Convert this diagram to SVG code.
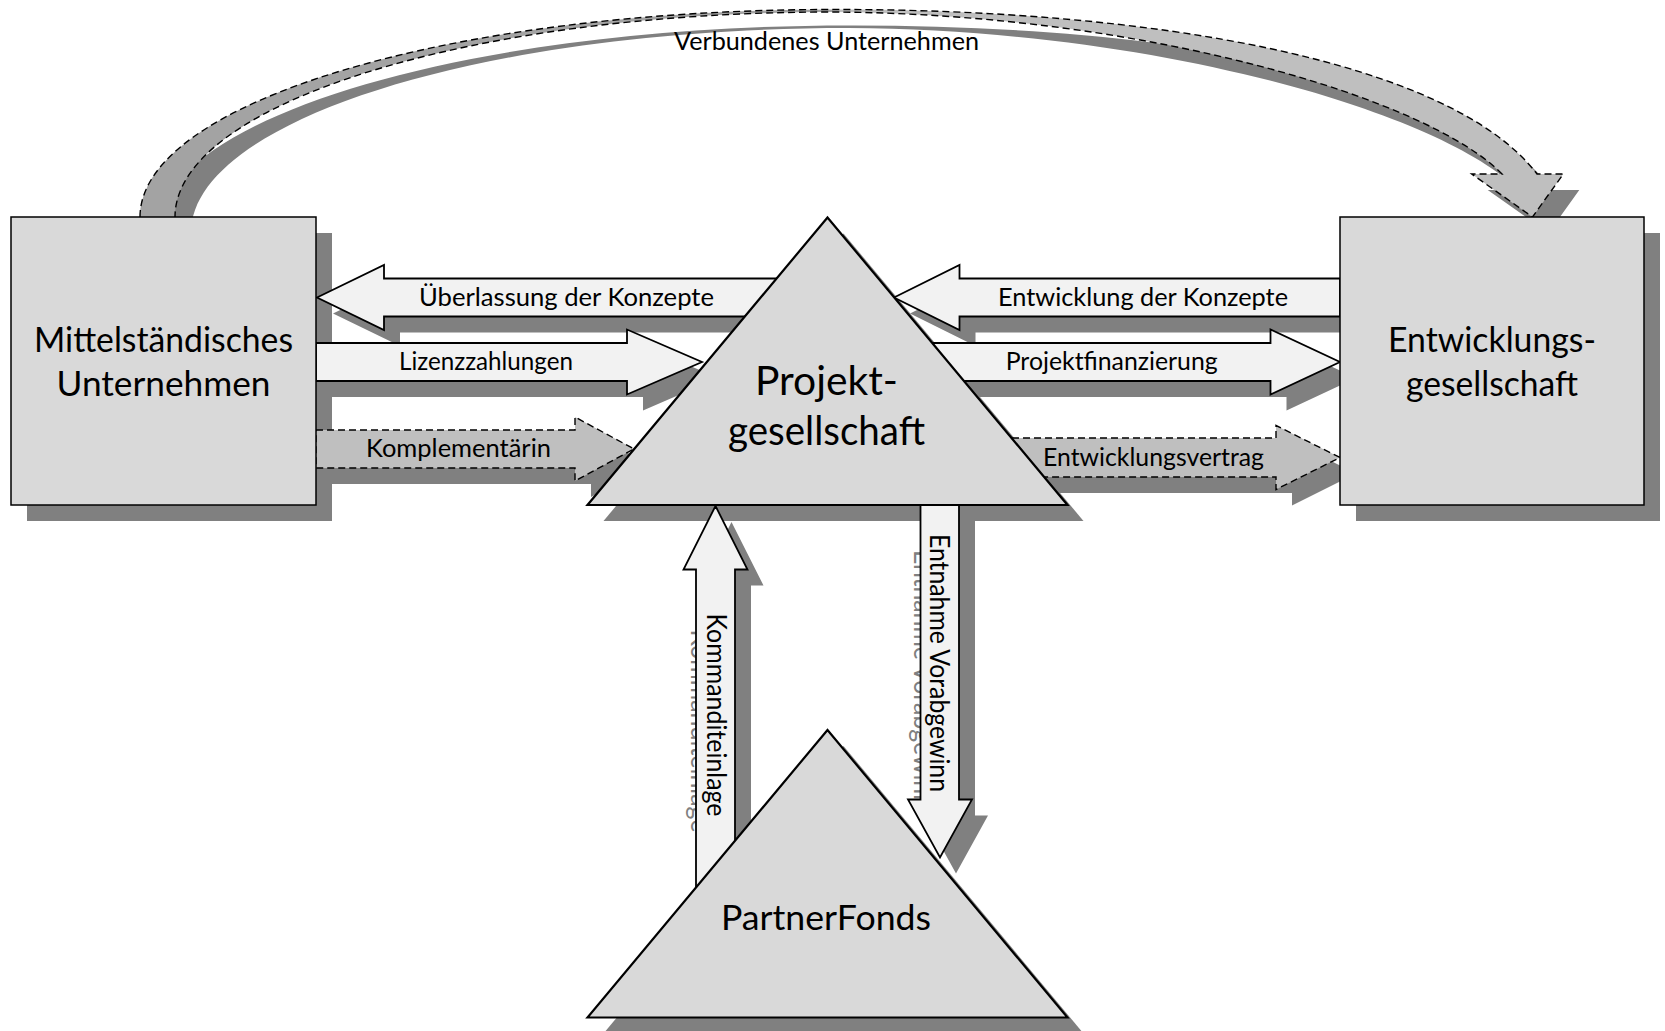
<svg xmlns="http://www.w3.org/2000/svg" width="1665" height="1031" viewBox="0 0 1665 1031">
<defs>
<style>
.sh{fill:#808080;stroke:none}
.box{fill:#d9d9d9;stroke:#000;stroke-width:1.5}
.tri{fill:#d9d9d9;stroke:#000;stroke-width:2.2;stroke-linejoin:miter}
.arw{fill:#f2f2f2;stroke:#000;stroke-width:1.8;stroke-linejoin:miter}
.darw{fill:#bfbfbf;stroke:#000;stroke-width:1.4;stroke-dasharray:7 4}
.t{font-family:Lato,'Open Sans','Liberation Sans',sans-serif;fill:#000;text-anchor:middle}
.s{font-size:25px}
.v{font-size:26px}
.b{font-size:35px}
.p{font-size:40px}
.g{fill:#808080}
</style>
</defs>
<rect width="1665" height="1031" fill="#fff"/>

<g id="node-shadows">
<rect class="sh" x="27" y="233" width="305" height="288"/>
<rect class="sh" x="1356" y="233" width="304" height="288"/>
<polygon class="sh" points="843.5,233.5 603.5,521 1083.5,521"/>
<polygon class="sh" points="843.5,746 603.5,1033.5 1083.5,1033.5"/>
</g>

<g id="connectors">
<g id="curved-arrow">
<path class="sh" transform="translate(16,16)" d="M140,217 C140,102.4 450.3,9.5 833,9.5 C1150,9 1450,60 1537,174 L1563.3,174 L1532.5,217 L1471.7,174 L1502,174 C1430,100 1150,14 833,12 C469.6,12 175,103.8 175,217 Z"/>
<path fill="#a3a3a3" d="M140,217 C140,102.4 450.3,9.5 833,9.5 L833,12 C469.6,12 175,103.8 175,217 Z"/>
<path fill="#bfbfbf" d="M833,9.5 C1150,9 1450,60 1537,174 L1563.3,174 L1532.5,217 L1471.7,174 L1502,174 C1430,100 1150,14 833,12 Z"/>
<path fill="none" stroke="#000" stroke-width="1.4" stroke-dasharray="7 4" d="M140,217 C140,102.4 450.3,9.5 833,9.5 C1150,9 1450,60 1537,174 L1563.3,174 L1532.5,217 L1471.7,174 L1502,174 C1430,100 1150,14 833,12 C469.6,12 175,103.8 175,217"/>
<text class="t s" x="826.5" y="50" textLength="305" lengthAdjust="spacingAndGlyphs">Verbundenes Unternehmen</text>
</g>

<g id="arrow-shadows" class="sh">
<polygon points="317,297.5 384,265 384,278.5 790,278.5 790,316.5 384,316.5 384,330" transform="translate(16,16)"/>
<polygon points="316,343 627,343 627,329.5 702,362 627,394.5 627,381 316,381" transform="translate(16,16)"/>
<polygon points="316,430 575,430 575,417 634,449 575,481 575,468 316,468" transform="translate(16,16)"/>
<polygon points="894,297.5 959.5,265 959.5,278.5 1340,278.5 1340,316.5 959.5,316.5 959.5,330" transform="translate(16,16)"/>
<polygon points="900,343 1270.5,343 1270.5,329.5 1340,362 1270.5,394.5 1270.5,381 900,381" transform="translate(16,16)"/>
<polygon points="990,438 1276,438 1276,425.5 1340,457.5 1276,489.5 1276,477 990,477" transform="translate(16,16)"/>
<polygon points="715.5,506 747.5,569.5 735,569.5 735,900 696,900 696,569.5 683.5,569.5" transform="translate(16,16)"/>
<polygon points="920.5,500 959,500 959,799.5 972,799.5 940,857.5 908,799.5 920.5,799.5" transform="translate(16,16)"/>
</g>
<text class="t v g" transform="translate(690.5,731) rotate(90)" textLength="203" lengthAdjust="spacingAndGlyphs">Kommanditeinlage</text>
<text class="t v g" transform="translate(914,679) rotate(90)" textLength="258" lengthAdjust="spacingAndGlyphs">Entnahme Vorabgewinn</text>

<g id="arrow-ueberlassung">
<polygon class="arw" points="317,297.5 384,265 384,278.5 790,278.5 790,316.5 384,316.5 384,330"/>
<text class="t s" x="566.5" y="306" textLength="295" lengthAdjust="spacingAndGlyphs">Überlassung der Konzepte</text>
</g>
<g id="arrow-lizenz">
<polygon class="arw" points="316,343 627,343 627,329.5 702,362 627,394.5 627,381 316,381"/>
<text class="t s" x="486" y="370" textLength="174" lengthAdjust="spacingAndGlyphs">Lizenzzahlungen</text>
</g>
<g id="arrow-komplementaerin">
<polygon class="darw" points="316,430 575,430 575,417 634,449 575,481 575,468 316,468"/>
<text class="t s" x="458.5" y="457" textLength="185" lengthAdjust="spacingAndGlyphs">Komplementärin</text>
</g>
<g id="arrow-entwicklung">
<polygon class="arw" points="894,297.5 959.5,265 959.5,278.5 1340,278.5 1340,316.5 959.5,316.5 959.5,330"/>
<text class="t s" x="1143" y="306" textLength="290" lengthAdjust="spacingAndGlyphs">Entwicklung der Konzepte</text>
</g>
<g id="arrow-projektfinanzierung">
<polygon class="arw" points="900,343 1270.5,343 1270.5,329.5 1340,362 1270.5,394.5 1270.5,381 900,381"/>
<text class="t s" x="1111.7" y="370" textLength="212" lengthAdjust="spacingAndGlyphs">Projektfinanzierung</text>
</g>
<g id="arrow-entwicklungsvertrag">
<polygon class="darw" points="990,438 1276,438 1276,425.5 1340,457.5 1276,489.5 1276,477 990,477"/>
<text class="t s" x="1153.5" y="466" textLength="221" lengthAdjust="spacingAndGlyphs">Entwicklungsvertrag</text>
</g>
<g id="arrow-kommanditeinlage">
<polygon class="arw" points="715.5,506 747.5,569.5 735,569.5 735,900 696,900 696,569.5 683.5,569.5"/>
<text class="t v" transform="translate(706.5,715) rotate(90)" textLength="203" lengthAdjust="spacingAndGlyphs">Kommanditeinlage</text>
</g>
<g id="arrow-entnahme">
<polygon class="arw" points="920.5,500 959,500 959,799.5 972,799.5 940,857.5 908,799.5 920.5,799.5"/>
<text class="t v" transform="translate(930,663) rotate(90)" textLength="258" lengthAdjust="spacingAndGlyphs">Entnahme Vorabgewinn</text>
</g>
</g>

<g id="node-projektgesellschaft">
<polygon class="tri" points="827.5,217.5 587.5,505 1067.5,505"/>
<text class="t p" x="826.5" y="395" textLength="143" lengthAdjust="spacingAndGlyphs">Projekt-</text>
<text class="t p" x="826.5" y="445" textLength="197" lengthAdjust="spacingAndGlyphs">gesellschaft</text>
</g>
<g id="node-partnerfonds">
<polygon class="tri" points="827.5,730 587.5,1017.5 1067.5,1017.5"/>
<text class="t b" x="826" y="930" textLength="210" lengthAdjust="spacingAndGlyphs">PartnerFonds</text>
</g>
<g id="node-mittelstaendisches-unternehmen">
<rect class="box" x="11" y="217" width="305" height="288"/>
<text class="t b" x="163.5" y="352" textLength="259" lengthAdjust="spacingAndGlyphs">Mittelständisches</text>
<text class="t b" x="163.5" y="396" textLength="214" lengthAdjust="spacingAndGlyphs">Unternehmen</text>
</g>
<g id="node-entwicklungsgesellschaft">
<rect class="box" x="1340" y="217" width="304" height="288"/>
<text class="t b" x="1492" y="352" textLength="208" lengthAdjust="spacingAndGlyphs">Entwicklungs-</text>
<text class="t b" x="1492" y="396" textLength="172" lengthAdjust="spacingAndGlyphs">gesellschaft</text>
</g>
</svg>
